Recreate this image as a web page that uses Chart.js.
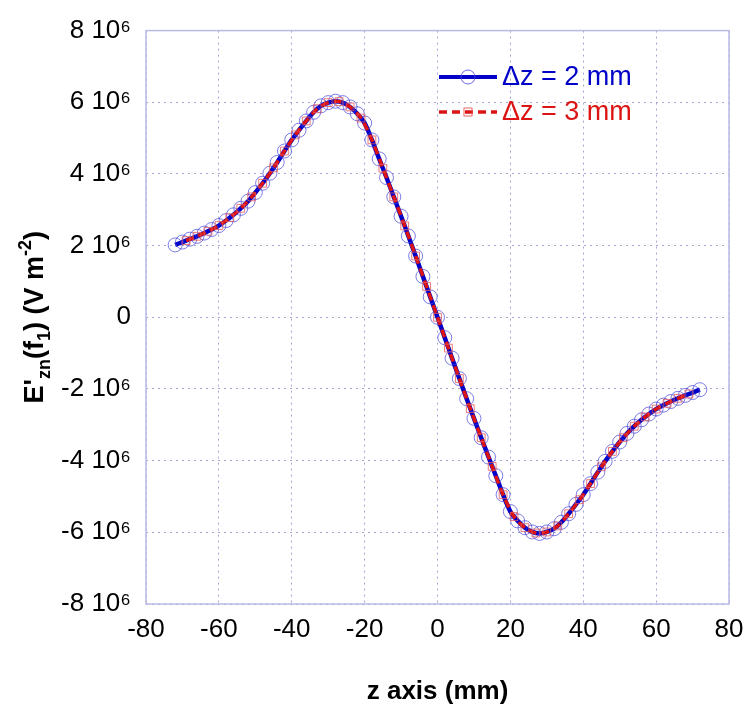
<!DOCTYPE html>
<html>
<head>
<meta charset="utf-8">
<script src="https://cdn.jsdelivr.net/npm/chart.js@4.4.0/dist/chart.umd.min.js"></script>
<style>
  html, body { margin: 0; padding: 0; background: #fff; }
</style>
</head>
<body>
<canvas id="chart" width="745" height="705"></canvas>
<script>
// values in units of 10^6 V m^-2
var zBlue = [-72, -70, -68, -66, -64, -62, -60, -58, -56, -54, -52, -50, -48, -46, -44, -42, -40, -38, -36, -34, -32, -30, -28, -26, -24, -22, -20, -18, -16, -14, -12, -10, -8, -6, -4, -2,
  0, 2, 4, 6, 8, 10, 12, 14, 16, 18, 20, 22, 24, 26, 28, 30, 32, 34, 36, 38, 40, 42, 44, 46, 48, 50, 52, 54, 56, 58, 60, 62, 64, 66, 68, 70, 72]
var eBlue = [2.02, 2.10, 2.18, 2.26, 2.35, 2.45, 2.56, 2.70, 2.86, 3.04, 3.24, 3.48, 3.74, 4.02, 4.32, 4.64, 4.95, 5.22, 5.48, 5.72, 5.90, 5.99, 6.03, 5.99, 5.87, 5.68, 5.42, 4.95, 4.42, 3.90, 3.36, 2.82, 2.27, 1.71, 1.14, 0.57,
  0, -0.57, -1.14, -1.71, -2.27, -2.82, -3.36, -3.90, -4.42, -4.95, -5.42, -5.68, -5.87, -5.99, -6.03, -5.99, -5.90, -5.72, -5.48, -5.22, -4.95, -4.64, -4.32, -4.02, -3.74, -3.48, -3.24, -3.04, -2.86, -2.70, -2.56, -2.45, -2.35, -2.26, -2.18, -2.10, -2.02]

var zRed = [-69, -66, -63, -60, -57, -54, -51, -48, -45, -42, -39, -36, -33, -30, -27, -24, -21, -18, -15, -12, -9, -6, -3,
  0, 3, 6, 9, 12, 15, 18, 21, 24, 27, 30, 33, 36, 39, 42, 45, 48, 51, 54, 57, 60, 63, 66, 69]
var eRed = [2.14, 2.26, 2.40, 2.56, 2.78, 3.04, 3.36, 3.74, 4.17, 4.64, 5.09, 5.48, 5.82, 5.99, 6.02, 5.87, 5.56, 4.95, 4.16, 3.36, 2.55, 1.71, 0.86,
  0, -0.86, -1.71, -2.55, -3.36, -4.16, -4.95, -5.56, -5.87, -6.02, -5.99, -5.82, -5.48, -5.09, -4.64, -4.17, -3.74, -3.36, -3.04, -2.78, -2.56, -2.40, -2.26, -2.14]

var xTicks = [-80, -60, -40, -20, 0, 20, 40, 60, 80]
var yTicks = [-8, -6, -4, -2, 0, 2, 4, 6, 8]

var legendNames = ['\u0394z = 2 mm', '\u0394z = 3 mm']

var BLUE = 'rgb(0, 0, 200)'
var RED = 'rgb(220, 20, 20)'
var GRID = 'rgb(165, 165, 210)'
var FRAME = 'rgb(185, 185, 228)'

function pts(xs, ys) {
  return xs.map(function (x, i) { return { x: x, y: ys[i] } })
}

var overlay = {
  id: 'overlay',
  afterDraw: function (chart) {
    var ctx = chart.ctx
    var area = chart.chartArea
    ctx.save()

    // legend
    var rows = [
      { y: 77, color: BLUE, dash: [], marker: 'circle' },
      { y: 112, color: RED, dash: [8, 5], marker: 'rect' }
    ]
    rows.forEach(function (r, i) {
      ctx.setLineDash(r.dash)
      ctx.strokeStyle = r.color
      ctx.lineWidth = i === 0 ? 4 : 3.5
      ctx.beginPath()
      ctx.moveTo(439, r.y)
      ctx.lineTo(497, r.y)
      ctx.stroke()
      ctx.setLineDash([])
      ctx.lineWidth = 1
      if (r.marker === 'circle') {
        ctx.strokeStyle = 'rgba(70, 70, 220, 0.8)'
        ctx.beginPath()
        ctx.arc(468, r.y, 7, 0, Math.PI * 2)
        ctx.stroke()
      } else {
        ctx.strokeStyle = 'rgba(230, 90, 90, 0.9)'
        ctx.strokeRect(464, r.y - 4, 8, 8)
      }
      ctx.fillStyle = r.color
      ctx.font = '27px "Liberation Sans", Arial, sans-serif'
      ctx.textAlign = 'left'
      ctx.textBaseline = 'middle'
      ctx.fillText(legendNames[i], 502, r.y + 1)
    })

    // x axis title
    ctx.fillStyle = '#000'
    ctx.font = 'bold 26px "Liberation Sans", Arial, sans-serif'
    ctx.textAlign = 'center'
    ctx.textBaseline = 'alphabetic'
    ctx.fillText('z axis (mm)', (area.left + area.right) / 2, 699)

    // y axis title with sub/superscripts
    var parts = [
      ['E\'', 27, 0], ['zn', 18, 7], ['(f', 27, 0], ['1', 18, 7], [') (V m', 27, 0], ['-2', 18, -12], [')', 27, 0]
    ]
    var total = 0
    parts.forEach(function (p) {
      ctx.font = 'bold ' + p[1] + 'px "Liberation Sans", Arial, sans-serif'
      total += ctx.measureText(p[0]).width
    })
    ctx.translate(43, (area.top + area.bottom) / 2)
    ctx.rotate(-Math.PI / 2)
    ctx.textAlign = 'left'
    var x = -total / 2
    parts.forEach(function (p) {
      ctx.font = 'bold ' + p[1] + 'px "Liberation Sans", Arial, sans-serif'
      ctx.fillText(p[0], x, p[2])
      x += ctx.measureText(p[0]).width
    })
    ctx.restore()

    // plot frame
    ctx.save()
    ctx.strokeStyle = FRAME
    ctx.lineWidth = 1.5
    ctx.strokeRect(area.left, area.top, area.right - area.left, area.bottom - area.top)
    ctx.restore()
  }
}

new Chart(document.getElementById('chart'), {
  type: 'scatter',
  data: {
    datasets: [
      {
        label: legendNames[0],
        data: pts(zBlue, eBlue),
        showLine: true,
        borderColor: BLUE,
        borderWidth: 4.5,
        pointStyle: 'circle',
        pointRadius: 7,
        pointBorderWidth: 1,
        pointBorderColor: 'rgba(70, 70, 220, 0.7)',
        pointBackgroundColor: 'rgba(0, 0, 0, 0)',
        tension: 0.3,
        order: 2
      },
      {
        label: legendNames[1],
        data: pts(zRed, eRed),
        showLine: true,
        borderColor: RED,
        borderWidth: 3.5,
        borderDash: [8, 5],
        pointStyle: 'rect',
        pointRadius: 5.5,
        pointBorderWidth: 1,
        pointBorderColor: 'rgba(230, 90, 90, 0.8)',
        pointBackgroundColor: 'rgba(0, 0, 0, 0)',
        tension: 0.3,
        order: 1
      }
    ]
  },
  options: {
    responsive: false,
    animation: false,
    layout: { padding: { left: 0, right: 0, top: 22, bottom: 0 } },
    plugins: {
      legend: { display: false },
      tooltip: { enabled: false }
    },
    scales: {
      x: {
        type: 'linear',
        min: -80,
        max: 80,
        afterBuildTicks: function (s) { s.ticks = xTicks.map(function (v) { return { value: v } }) },
        afterFit: function (s) {
          s.height = 101
          s.paddingLeft = 0
          s.paddingRight = 16
        },
        ticks: {
          padding: 10,
          color: '#000',
          font: { family: '"Liberation Sans", Arial, sans-serif', size: 26 },
          maxRotation: 0
        },
        grid: {
          color: GRID,
          lineWidth: 1,
          drawTicks: false
        },
        border: { display: false, dash: [2, 4] }
      },
      y: {
        type: 'linear',
        min: -8,
        max: 8,
        afterBuildTicks: function (s) { s.ticks = yTicks.map(function (v) { return { value: v } }) },
        afterFit: function (s) { s.width = 146 },
        ticks: {
          padding: 15,
          color: '#000',
          font: { family: '"Liberation Sans", Arial, sans-serif', size: 26 },
          callback: function (v) { return v === 0 ? '0' : v + ' 10\u2076' }
        },
        grid: {
          color: GRID,
          lineWidth: 1,
          drawTicks: false
        },
        border: { display: false, dash: [2, 4] }
      }
    }
  },
  plugins: [overlay]
})
</script>
</body>
</html>
